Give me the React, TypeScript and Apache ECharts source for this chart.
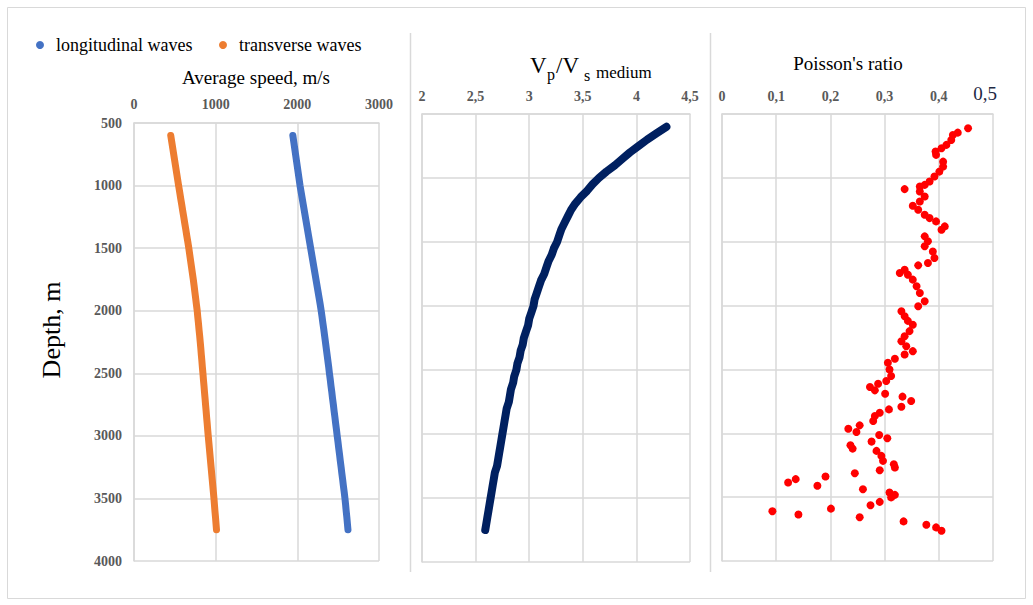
import React, { useEffect, useRef } from "react";
import * as echarts from "echarts";

const FONT = "Liberation Serif";

const depths = [
  600, 650, 700, 750, 800, 850, 900, 950, 1000,
  1050, 1100, 1150, 1200, 1250, 1300, 1350, 1400, 1450, 1500,
  1550, 1600, 1650, 1700, 1750, 1800, 1850, 1900, 1950, 2000,
  2050, 2100, 2150, 2200, 2250, 2300, 2350, 2400, 2450, 2500,
  2550, 2600, 2650, 2700, 2750, 2800, 2850, 2900, 2950, 3000,
  3050, 3100, 3150, 3200, 3250, 3300, 3350, 3400, 3450, 3500,
  3550, 3600, 3650, 3700, 3750,
];

const longitudinal = [
  1945, 1956, 1967, 1978, 1989, 2000, 2011, 2022, 2033,
  2046, 2059, 2072, 2085, 2098, 2111, 2124, 2137, 2150, 2163,
  2176, 2189, 2202, 2215, 2228, 2241, 2254, 2267, 2280, 2292,
  2303, 2313, 2324, 2334, 2344, 2354, 2364, 2374, 2384, 2393,
  2403, 2412, 2422, 2431, 2441, 2450, 2460, 2469, 2479, 2488,
  2498, 2507, 2517, 2526, 2536, 2545, 2555, 2564, 2574, 2583,
  2591, 2598, 2606, 2613, 2620,
];

const transverse = [
  450, 462, 474, 486, 498, 510, 522, 534, 546,
  559, 571, 584, 596, 609, 621, 634, 646, 659, 671,
  682, 693, 704, 715, 726, 736, 745, 755, 764, 774,
  781, 789, 796, 804, 811, 818, 824, 831, 837, 844,
  850, 857, 863, 870, 876, 883, 889, 896, 902, 909,
  916, 923, 930, 937, 944, 951, 958, 965, 972, 979,
  985, 991, 998, 1004, 1010,
];

const vpVs = [
  4.28, 4.19, 4.1, 4.02, 3.94, 3.87, 3.8, 3.72, 3.65,
  3.59, 3.54, 3.48, 3.43, 3.39, 3.36, 3.33, 3.3, 3.28, 3.26,
  3.23, 3.21, 3.18, 3.16, 3.14, 3.11, 3.09, 3.07, 3.05, 3.04,
  3.02, 3.0, 2.99, 2.97, 2.95, 2.94, 2.92, 2.91, 2.89, 2.88,
  2.86, 2.85, 2.83, 2.82, 2.81, 2.79, 2.78, 2.77, 2.76, 2.75,
  2.74, 2.73, 2.72, 2.71, 2.7, 2.68, 2.67, 2.66, 2.65, 2.64,
  2.63, 2.62, 2.61, 2.6, 2.59,
];

const poissonDepth = [
  612, 646, 664, 703, 742, 768, 794, 820, 873, 912, 951, 990, 1029, 1055, 1068,
  1088, 1107, 1146, 1185, 1219, 1250, 1289, 1315, 1341, 1380, 1406, 1458, 1497,
  1536, 1576, 1628, 1667, 1685, 1719, 1745, 1758, 1797, 1849, 1901, 1966, 2005,
  2044, 2083, 2120, 2150, 2200, 2240, 2279, 2318, 2357, 2383, 2417, 2448, 2500,
  2552, 2591, 2612, 2638, 2664, 2690, 2713, 2747, 2792, 2813, 2839, 2865, 2904,
  2938, 2964, 2990, 3013, 3039, 3065, 3094, 3120, 3138, 3177, 3216, 3242, 3268,
  3289, 3313, 3338, 3359, 3385, 3411, 3438, 3463, 3482, 3502, 3537, 3563, 3590,
  3610, 3636, 3657, 3690, 3716, 3737, 3763,
];

const poissonRatio = [
  0.454, 0.435, 0.426, 0.423, 0.414, 0.405, 0.394, 0.395, 0.408, 0.408, 0.401, 0.392, 0.383, 0.374, 0.365,
  0.337, 0.365, 0.374, 0.365, 0.352, 0.362, 0.374, 0.383, 0.395, 0.411, 0.405, 0.374, 0.38,
  0.374, 0.389, 0.392, 0.38, 0.362, 0.337, 0.328, 0.343, 0.352, 0.359, 0.365, 0.374, 0.362,
  0.331, 0.337, 0.343, 0.352, 0.346, 0.337, 0.331, 0.34, 0.352, 0.337, 0.319, 0.306, 0.309,
  0.312, 0.303, 0.288, 0.273, 0.282, 0.301, 0.333, 0.349, 0.331, 0.308, 0.291, 0.282, 0.279,
  0.254, 0.233, 0.248, 0.29, 0.305, 0.276, 0.237, 0.241, 0.285, 0.294, 0.297, 0.317, 0.319,
  0.291, 0.245, 0.191, 0.136, 0.122, 0.176, 0.26, 0.309, 0.319, 0.312, 0.291, 0.274, 0.201,
  0.093, 0.141, 0.254, 0.335, 0.377, 0.395, 0.405,
];

const GRID_COLOR = "#d9d9d9";
const LABEL_COLOR = "#595959";

const comma = (v: number) => String(Math.round(v * 1000) / 1000).replace(".", ",");
const plain = (v: number) => String(v);

const baseLabel = {
  color: LABEL_COLOR,
  fontWeight: "bold" as const,
  fontSize: 14,
  fontFamily: FONT,
};

const splitLine = { show: true, lineStyle: { color: GRID_COLOR, width: 1.5 } };
const axisLine = { show: true, lineStyle: { color: GRID_COLOR, width: 1.5 } };

const txt = (text: string, x: number, y: number, size: number, align = "left", extra: any = {}) => ({
  type: "text",
  x,
  y,
  ...extra,
  style: {
    text,
    fontSize: size,
    fontFamily: FONT,
    fill: "#000",
    align,
    verticalAlign: "middle",
  },
});

const legendBase = {
  top: 31,
  icon: "circle",
  itemWidth: 22,
  itemHeight: 8,
  textStyle: { fontFamily: FONT, fontSize: 18, color: "#000" },
};

export default function App() {
  const ref = useRef<HTMLDivElement>(null);

  useEffect(() => {
    if (!ref.current) return;
    const chart = echarts.init(ref.current, null, { renderer: "svg" });

    const curve = (name: string, xi: number, values: number[], color: string, width: number) => ({
      name,
      type: "line",
      xAxisIndex: xi,
      yAxisIndex: xi,
      showSymbol: false,
      symbol: "circle",
      symbolSize: width,
      itemStyle: { color, opacity: 1 },
      lineStyle: { color, width, cap: "round", join: "round" },
      data: values.map((v, i) => [v, depths[i]]),
    });

    const option: any = {
      animation: false,
      backgroundColor: "#ffffff",
      textStyle: { fontFamily: FONT },
      legend: [
        { ...legendBase, data: ["longitudinal waves"], left: 31 },
        { ...legendBase, data: ["transverse waves"], left: 214 },
      ],
      grid: [
        { left: 134, top: 123, width: 245, height: 438 },
        { left: 422, top: 114, width: 268, height: 448 },
        { left: 722, top: 114, width: 271, height: 447 },
      ],
      xAxis: [
        {
          gridIndex: 0, type: "value", position: "top", min: 0, max: 3000, interval: 1000,
          axisLine, axisTick: { show: false }, splitLine,
          axisLabel: { ...baseLabel, margin: 12, formatter: plain },
        },
        {
          gridIndex: 1, type: "value", position: "top", min: 2, max: 4.5, interval: 0.5,
          axisLine, axisTick: { show: false }, splitLine,
          axisLabel: { ...baseLabel, margin: 11, formatter: comma },
        },
        {
          gridIndex: 2, type: "value", position: "top", min: 0, max: 0.5, interval: 0.1,
          axisLine, axisTick: { show: false }, splitLine,
          axisLabel: {
            ...baseLabel,
            margin: 11,
            formatter: (v: number) => (Math.abs(v - 0.5) < 1e-9 ? "{big|0,5}" : comma(v)),
            rich: {
              big: { fontSize: 19, color: "#1f2a44", fontWeight: "normal", fontFamily: FONT, padding: [0, 16, 0, 0] },
            },
          },
        },
      ],
      yAxis: [
        {
          gridIndex: 0, type: "value", inverse: true, min: 500, max: 4000, interval: 500,
          axisLine, axisTick: { show: false }, splitLine,
          axisLabel: { ...baseLabel, margin: 12, formatter: plain },
        },
        {
          gridIndex: 1, type: "value", inverse: true, min: 500, max: 4000, interval: 500,
          axisLine, axisTick: { show: false }, splitLine, axisLabel: { show: false },
        },
        {
          gridIndex: 2, type: "value", inverse: true, min: 500, max: 4000, interval: 500,
          axisLine, axisTick: { show: false }, splitLine, axisLabel: { show: false },
        },
      ],
      series: [
        curve("longitudinal waves", 0, longitudinal, "#4472C4", 7),
        curve("transverse waves", 0, transverse, "#ED7D31", 7),
        curve("Vp/Vs medium", 1, vpVs, "#002060", 8),
        {
          name: "Poisson's ratio", type: "scatter", xAxisIndex: 2, yAxisIndex: 2,
          symbolSize: 8, itemStyle: { color: "#FF0000", opacity: 1 },
          data: poissonRatio.map((v, i) => [v, poissonDepth[i]]),
        },
      ],
      graphic: [
        {
          type: "rect", silent: true, z: -1,
          shape: { x: 7.5, y: 7.5, width: 1018, height: 591 },
          style: { fill: "none", stroke: GRID_COLOR, lineWidth: 1 },
        },
        {
          type: "line", silent: true,
          shape: { x1: 410.5, y1: 33, x2: 410.5, y2: 572 },
          style: { stroke: GRID_COLOR, lineWidth: 1.5 },
        },
        {
          type: "line", silent: true,
          shape: { x1: 710.5, y1: 33, x2: 710.5, y2: 572 },
          style: { stroke: GRID_COLOR, lineWidth: 1.5 },
        },
        txt("Average speed, m/s", 256, 77, 19, "center"),
        txt("Depth, m", 51, 330, 26, "center", { rotation: Math.PI / 2 }),
        txt("V", 530, 65, 23),
        txt("p", 547, 74, 16),
        txt("/V", 556, 65, 23),
        txt("s", 584, 75, 16),
        txt("medium", 596, 72, 17),
        txt("Poisson's ratio", 848, 63, 19, "center"),
      ],
    };

    chart.setOption(option);
    return () => chart.dispose();
  }, []);

  return (
    <div
      ref={ref}
      style={{ position: "fixed", left: 0, top: 0, width: 1033, height: 605, background: "#fff" }}
    />
  );
}
